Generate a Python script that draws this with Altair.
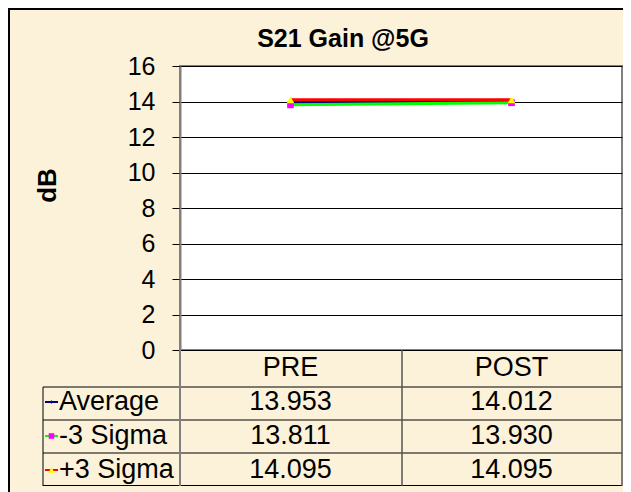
import altair as alt
import pandas as pd

# ---------------- data ----------------
categories = ["PRE", "POST"]
series_names = ["Average", "-3 Sigma", "+3 Sigma"]
average = [13.953, 14.012]
minus3 = [13.811, 13.930]
plus3 = [14.095, 14.095]
y_ticks = [0, 2, 4, 6, 8, 10, 12, 14, 16]
title_text = "S21 Gain @5G"
y_title = "dB"

# ---------------- styles ----------------
line_colors = ["#000080", "#00FF00", "#FF0000"]
marker_colors = ["#000080", "#FF00FF", "#FFFF00"]
marker_shapes = ["diamond", "square", "triangle-up"]
marker_sizes = [18, 45, 60]
FONT = "Liberation Sans"
BG = "#FCF2DA"
W, H = 442, 284

rows = []
for s, vals in zip(series_names, [average, minus3, plus3]):
    for c, v in zip(categories, vals):
        rows.append({"series": s, "category": c, "value": v, "label": f"{v:.3f}"})
df = pd.DataFrame(rows)

x_enc = alt.X("category:N",
              scale=alt.Scale(type="point", domain=categories, padding=0.5),
              axis=None)
y_enc = alt.Y("value:Q",
              scale=alt.Scale(domain=[0, 16], nice=False),
              axis=alt.Axis(values=y_ticks, grid=True, gridColor="black",
                            gridWidth=1, gridOpacity=1, tickColor="black",
                            tickSize=8, tickWidth=1, domainColor="#808080",
                            domainWidth=2, labelFont=FONT, labelFontSize=25,
                            labelColor="black", labelPadding=17,
                            title=y_title, titleFont=FONT, titleFontSize=26,
                            titleFontWeight="bold", titleColor="black",
                            titleAngle=270, titleX=-133, titleY=119,
                            titleAlign="center", titleBaseline="middle"))

plot_layers = []
for i, s in enumerate(series_names):
    sub = alt.Chart(df).transform_filter(alt.datum.series == s)
    plot_layers.append(
        sub.mark_line(color=line_colors[i], strokeWidth=3).encode(x=x_enc, y=y_enc))
    plot_layers.append(
        sub.mark_point(shape=marker_shapes[i], filled=True, color=marker_colors[i],
                       size=marker_sizes[i], opacity=1).encode(x=x_enc, y=y_enc))
plot_group = alt.layer(*plot_layers)

# ---------------- data table ----------------
tab_rows = ["header"] + series_names
row_scale = alt.Scale(type="point", domain=tab_rows, range=[302, 404], padding=0)

tdf = pd.DataFrame(
    [{"row": "header", "category": c, "text": c} for c in categories]
    + [{"row": r["series"], "category": r["category"], "text": r["label"]} for r in rows]
)
table_layers = [
    alt.Chart(tdf).mark_text(font=FONT, fontSize=27, color="black",
                             baseline="middle", align="center").encode(
        x=x_enc, y=alt.Y("row:N", scale=row_scale, axis=None), text="text:N")
]
sdf = pd.DataFrame({"row": series_names})
table_layers.append(
    alt.Chart(sdf).mark_text(font=FONT, fontSize=27, color="black",
                             baseline="middle", align="left").encode(
        x=alt.value(-121), y=alt.Y("row:N", scale=row_scale, axis=None), text="row:N"))
for i, s in enumerate(series_names):
    sub = alt.Chart(sdf).transform_filter(alt.datum.row == s)
    table_layers.append(
        sub.mark_rule(color=line_colors[i], strokeWidth=2).encode(
            x=alt.value(-135), x2=alt.value(-122),
            y=alt.Y("row:N", scale=row_scale, axis=None)))
    table_layers.append(
        sub.mark_point(shape=marker_shapes[i], filled=True, color=marker_colors[i],
                       size=marker_sizes[i] * 0.7, opacity=1).encode(
            x=alt.value(-128.5), y=alt.Y("row:N", scale=row_scale, axis=None)))
table_group = alt.layer(*table_layers)

# ---------------- decorations ----------------
one = pd.DataFrame({"d": [0]})


def seg(x1, x2, y1, y2, color="black", w=1):
    return alt.Chart(one).mark_rule(color=color, strokeWidth=w).encode(
        x=alt.value(x1), x2=alt.value(x2), y=alt.value(y1), y2=alt.value(y2))


deco = []
for yy in [321, 354, 387, 419.5]:
    deco.append(seg(-137, 442, yy, yy))
deco.append(seg(-137, -137, 321, 420))
deco.append(seg(222, 222, 284, 420, "#555555", 1.5))
deco.append(seg(442, 442, 284, 420, "#555555", 1.5))
deco.append(seg(0, 0, 284, 420, "#808080", 2))
deco.append(seg(-172, 443, -57, -57, "black", 2))
deco.append(seg(-171, -171, -58, 440, "black", 2))

title_layer = alt.Chart(pd.DataFrame({"t": [title_text]})).mark_text(
    font=FONT, fontSize=25, fontWeight="bold", color="black",
    align="center", baseline="alphabetic").encode(
    text="t:N", x=alt.value(163), y=alt.value(-19))

chart = alt.layer(plot_group, table_group, *deco, title_layer).resolve_scale(
    y="independent"
).properties(
    width=W, height=H,
    autosize=alt.AutoSizeParams(type="none"),
    padding={"left": 172, "top": 58, "right": 1, "bottom": 150},
    background=BG,
).configure_view(fill="white", stroke="#808080", strokeWidth=2)

chart.save("out.html", embed_options={"renderer": "svg", "actions": False})
